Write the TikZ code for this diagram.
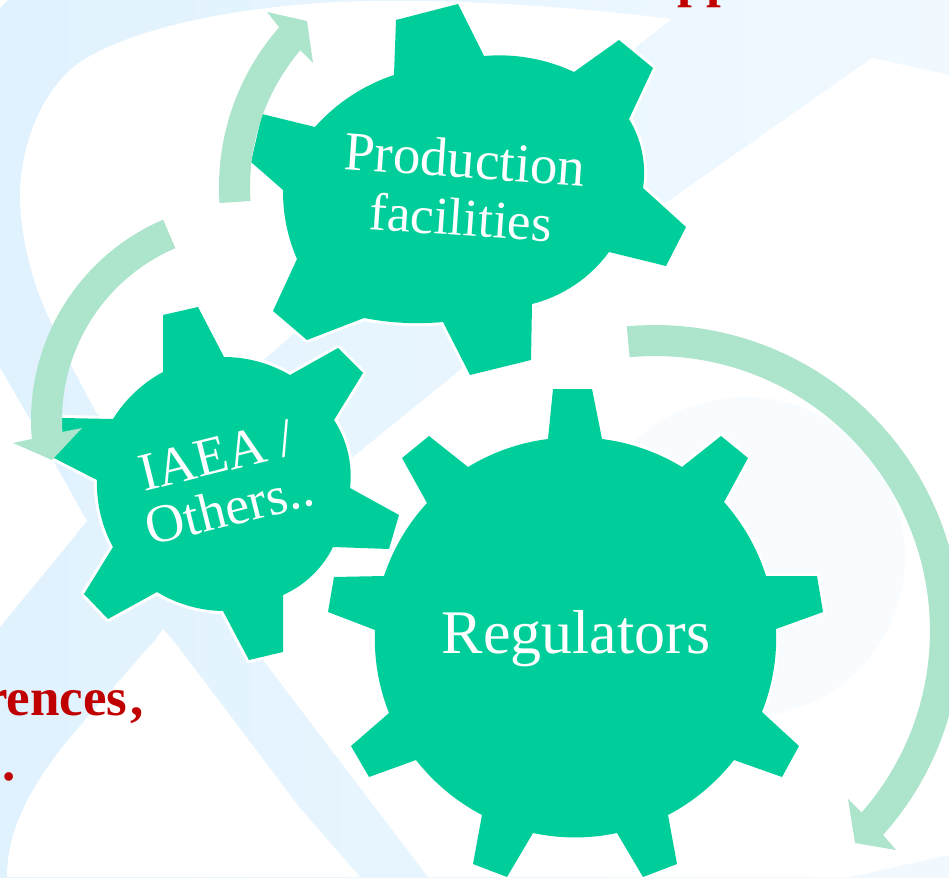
\documentclass[tikz,border=0pt]{standalone}
\usepackage{fontspec}
\setmainfont{Liberation Serif}
\definecolor{gearc}{HTML}{00CE9A}
\definecolor{arrowc}{HTML}{ADE4CC}
\definecolor{bandl}{HTML}{E0F2FE}
\definecolor{bandr}{HTML}{F1F9FF}
\definecolor{faint}{HTML}{F9FCFF}
\definecolor{redtxt}{HTML}{C00000}
\tikzset{
  gear/.style={fill=gearc,preaction={draw=white,line width=6pt,line join=round}},
  arrowband/.style={fill=arrowc,draw=none},
  blank/.style={fill=white,draw=none},
  geartext/.style={text=white,inner sep=0pt,align=center},
  redtext/.style={text=redtxt,inner sep=0pt,font=\fontsize{53}{53}\selectfont\bfseries,anchor=base east},
  arc12/.style={bend left=12,looseness=.87},
  arc15/.style={bend left=15,looseness=.87},
  arc20/.style={bend left=20,looseness=.87}
}
\begin{document}
\begin{tikzpicture}[x=1pt,y=-1pt]
\path[use as bounding box,clip] (0,0) rectangle (949,877);
% background
\shade[left color=bandl,right color=bandr] (0,0) rectangle (949,877);
% white regions
\fill[white] (0,0) -- (8,0) -- (0,8) -- cycle;
\path[blank] (672,19) .. controls (550,4) and (420,-3) .. (320,3)
  .. controls (220,10) and (130,30) .. (80,62)
  .. controls (40,90) and (20,150) .. (20,195)
  .. controls (20,240) and (35,290) .. (50,320)
  -- (70,363) -- (97,414) -- (165,447) -- (292,335) -- (637,46) -- cycle;
\path[blank] (0,368) -- (32,423) -- (87,521) -- (0,627) -- cycle;
\path[blank] (163,629) -- (155,640) .. controls (120,680) and (87,717) .. (60,750)
  .. controls (30,790) and (7,830) .. (7,877) -- (360,877) -- (300,808) -- (173,640) -- cycle;
\path[blank] (218,578) -- (353,457) -- (667,202) -- (872,58) -- (949,75)
  -- (949,877) -- (428,877) -- (263,660) -- cycle;
\fill[bandr] (850,877) -- (949,855) -- (949,877) -- cycle;
\fill[faint] (745,557) circle[radius=160];
% red text fragments
\node[redtext] (rt1) at (144,715) {rences\kern3pt,};
\node[redtext] (rt2) at (16,780) {..};
\node[redtext,anchor=base west] (rt3) at (677,-3) {pp};
% gears
\path[gear] (396,20) -- (458,4) -- (484,56) to[arc15] (574,72) -- (619,40) -- (653,68) -- (629,119)
  to[arc20] (643,188) -- (686,227) -- (666,266) -- (609,252) to[arc20] (532,304) -- (531,360)
  -- (470,375) -- (443,322) to[bend left=8,looseness=.87] (364,318) -- (307,340) -- (273,311) -- (297,259)
  to[arc12] (283,190) -- (251,162) -- (262,114) -- (315,127) to[arc15] (394,75) -- cycle;
\path[gear] (163,315) -- (198,307) -- (224,357) to[arc15] (290,375) -- (338,348) -- (363,373) -- (334,420)
  to[arc20] (350,488) -- (399,515) -- (389,549) -- (333,547) to[arc20] (283,595) -- (283,652)
  -- (249,660) -- (223,611) to[arc15] (157,592) -- (108,619) -- (84,594) -- (113,547)
  to[arc15] (97,480) -- (52,457) -- (62,418) -- (113,419) to[arc15] (163,372) -- cycle;
\path[gear] (553,389) -- (592,389) -- (602,439) to[arc12] (682,467) -- (721,436) -- (748,458) -- (724,502)
  to[arc12] (766,576) -- (817,576) -- (823,612) -- (776,629) to[arc12] (762,712) -- (799,746)
  -- (782,777) -- (734,760) to[arc12] (668,815) -- (677,864) -- (643,877) -- (617,833)
  to[arc12] (533,833) -- (507,877) -- (473,864) -- (482,815) to[arc12] (416,760) -- (369,777)
  -- (351,746) -- (389,713) to[arc12] (375,630) -- (328,612) -- (334,577) -- (384,576)
  to[arc12] (427,503) -- (402,458) -- (429,436) -- (468,467) to[arc12] (548,439) -- cycle;
% arrows
\path[arrowband] plot[domain=-95.3:41.8,samples=60] ({655+306*cos(\x)},{631+306*sin(\x)})
  -- (896,850) -- (855,843) -- (848,799) -- (862,813)
  -- plot[domain=41.3:-95.3,samples=60] ({655+275*cos(\x)},{631+275*sin(\x)}) -- cycle;
\path[arrowband] plot[domain=176.2:221.3,samples=30] ({461+242*cos(\x)},{187+242*sin(\x)})
  -- (267,12) -- (307,21) -- (313,63) -- (300,50)
  -- plot[domain=220.4:176.2,samples=30] ({461+211*cos(\x)},{187+211*sin(\x)}) -- cycle;
\path[arrowband] plot[domain=246.8:175,samples=30] ({249+218*cos(\x)},{420+218*sin(\x)})
  -- (13,443) -- (52,460) -- (82,428) -- (62,432)
  -- plot[domain=176.3:246.8,samples=30] ({249+187*cos(\x)},{420+187*sin(\x)}) -- cycle;
% labels
\node[geartext,rotate=-4,font=\fontsize{55}{58}\selectfont] (prod) at (463,188) {Production\\{\fontsize{53}{58}\selectfont facilities}};
\node[geartext,rotate=14,font=\fontsize{54}{54}\selectfont] (iaea) at (223,482) {IAEA /\\Others..};
\node[geartext,font=\fontsize{62}{62}\selectfont] (reg) at (576,639) {Regulators};
\end{tikzpicture}
\end{document}
